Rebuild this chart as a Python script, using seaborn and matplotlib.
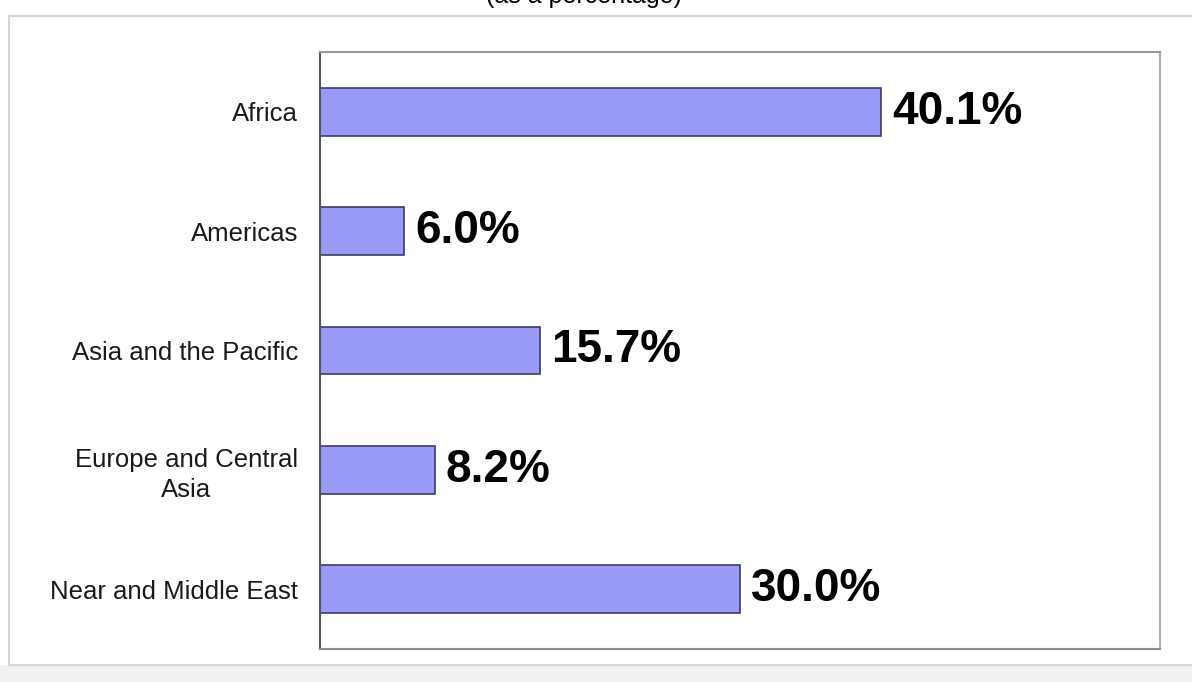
import matplotlib
matplotlib.use("Agg")
import matplotlib.pyplot as plt
import matplotlib.patches as mpatches
import seaborn as sns
import pandas as pd

regions = ["Africa", "Americas", "Asia and the Pacific",
           "Europe and Central\nAsia", "Near and Middle East"]
shares = [40.1, 6.0, 15.7, 8.2, 30.0]
value_labels = ["40.1%", "6.0%", "15.7%", "8.2%", "30.0%"]

df = pd.DataFrame({"region": regions, "share": shares})

sns.set_theme(style="white")
plt.rcParams["font.family"] = ["Liberation Sans", "DejaVu Sans"]

fig = plt.figure(figsize=(11.92, 6.82), dpi=100)
fig.patch.set_facecolor("white")

# outer panel frame and grey strip along the bottom
fig.patches.append(mpatches.Rectangle((0, 0), 1, 0.025, transform=fig.transFigure,
                                      facecolor="#f1f1f1", edgecolor="none", zorder=-2))
fig.patches.append(mpatches.Rectangle((0.0076, 0.025), 1.1, 0.9515, transform=fig.transFigure,
                                      facecolor="white", edgecolor="#d6d6d6", lw=1.5, zorder=-1))

fig.text(0.49, 0.996, "(as a percentage)", ha="center", va="baseline",
         fontsize=18, color="black")

ax = fig.add_axes([0.2685, 0.0484, 0.7047, 0.8754])
ax.set_zorder(2)
sns.barplot(data=df, y="region", x="share", orient="h", ax=ax,
            color="#9a9af8", saturation=1, width=0.4,
            edgecolor="#3c3c64", linewidth=1.2)

ax.bar_label(ax.containers[0], labels=value_labels, padding=8,
             fontsize=33, fontweight="bold", color="black")

ax.set_xlim(0, 60)
ax.set_ylim(4.5, -0.5)
ax.set_xlabel("")
ax.set_ylabel("")
ax.set_xticks([])
ax.tick_params(axis="y", length=0, pad=16, labelsize=18.5, labelcolor="#1a1a1a")
for lbl in ax.get_yticklabels():
    lbl.set_multialignment("center")
    lbl.set_linespacing(1.3)

ax.spines["left"].set_color("#555555")
ax.spines["top"].set_color("#9a9a9a")
ax.spines["bottom"].set_color("#8a8a8a")
ax.spines["right"].set_color("#b0b0b0")
for s in ax.spines.values():
    s.set_linewidth(1.5)

fig.savefig("out.png", dpi=100)
